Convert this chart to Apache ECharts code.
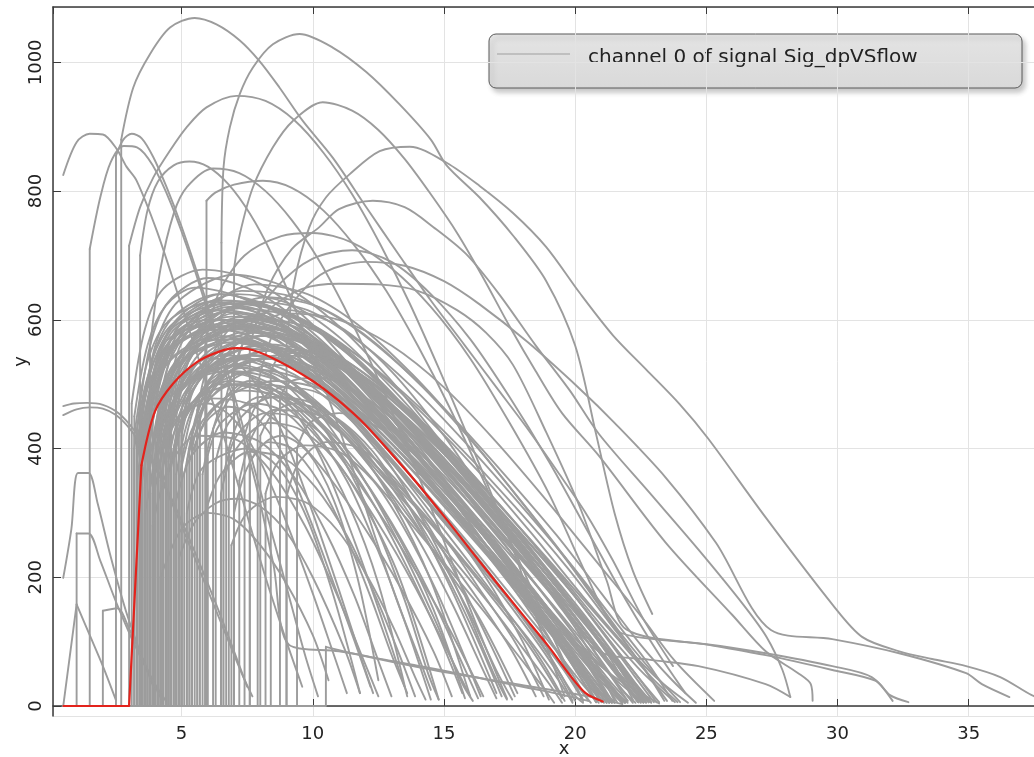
<!DOCTYPE html>
<html>
<head>
<meta charset="utf-8">
<script src="https://cdn.jsdelivr.net/npm/echarts@6/dist/echarts.min.js"></script>
<style>
html,body{margin:0;padding:0;background:#fff;}
#chart{width:1034px;height:757px;}
</style>
</head>
<body>
<div id="chart"></div>
<script>
// ---------------- data ----------------
const legendLabel = 'channel 0 of signal Sig_dpVSflow';
const xTickStep = 5;
const yTickStep = 200;

const redCurve = [[0.5,0],[3.0,0],[3.47,374],[3.98,457],[4.68,501],[5.57,534],[6.46,551],[7.1,556],[7.5,555],[8.5,540],[10.0,505],[11.0,474],[12.0,437],[13.0,392],[14.0,345],[15.0,295],[16.0,243],[17.0,192],[18.0,142],[19.0,92],[19.8,48],[20.4,20],[21.05,7]];

// big arcs
const arcA1 = [[0.5,0],[2.7,0],[2.7,880],[3.16,961],[3.8,1013],[4.56,1054],[5.5,1069],[6.33,1059],[7.22,1034],[7.97,1002],[8.73,961],[9.62,909],[10.76,852],[12.04,775],[13.3,700],[14.5,630],[15.8,560],[17.0,495],[18.2,430],[19.4,360],[20.4,300],[21.44,226],[22.6,135],[23.73,62]];
const arcA2 = [[0.5,0],[6.52,0],[6.52,720],[6.6,837],[6.84,899],[7.22,951],[7.72,992],[8.48,1028],[9.5,1044],[10.76,1023],[12.04,985],[13.3,935],[14.5,880],[15.1,840],[16.36,790],[17.63,731],[18.9,660],[20.0,560],[20.8,422],[21.5,300],[22.2,210],[22.94,143]];
const arcM1 = [[0.5,0],[3.42,0],[3.42,700],[3.7,770],[4.1,815],[4.7,840],[5.3,846],[6.0,838],[6.8,810],[7.6,765],[8.4,705],[9.2,630],[10.0,545],[10.8,455],[11.6,360],[12.4,260],[13.2,165],[14.0,80],[14.5,25]];
const arcM2 = [[0.5,0],[3.8,0],[3.8,560],[4.2,680],[4.7,765],[5.2,806],[6.2,835],[7.2,828],[8.2,800],[9.2,755],[10.2,695],[11.2,620],[12.2,535],[13.2,440],[14.2,340],[15.2,235],[16.2,130],[17.0,50],[17.4,12]];
const arcM3 = [[0.5,0],[5.95,0],[5.95,785],[6.3,798],[7.0,810],[8.1,816],[9.2,805],[10.4,770],[11.6,715],[12.8,645],[14.0,560],[15.2,465],[16.4,360],[17.6,250],[18.8,140],[19.8,50],[20.3,10]];
const arcM4 = [[0.5,0],[3.0,0],[3.0,715],[3.42,775],[3.92,821],[4.56,863],[5.19,899],[5.95,930],[7.09,948],[8.2,940],[9.3,910],[10.4,860],[11.5,795],[12.6,715],[13.7,625],[14.8,525],[15.9,420],[17.0,310],[17.8,225],[18.5,140],[19.2,60],[19.6,15]];
const arcM5 = [[0.5,0],[7.0,0],[7.0,680],[7.22,733],[7.72,806],[8.48,868],[9.24,909],[10.38,938],[11.5,925],[12.5,895],[13.5,850],[14.5,795],[15.5,735],[16.5,665],[17.5,590],[18.5,520],[19.5,455],[20.9,389],[23.45,254],[26.0,141],[27.26,85],[28.5,51],[28.98,34],[29.05,8]];
const arcL1 = [[0.5,0],[9.0,0],[9.0,560],[9.3,660],[9.87,744],[10.5,790],[11.4,826],[12.55,862],[13.7,869],[15.1,844],[16.36,808],[17.63,766],[18.9,713],[20.17,642],[21.44,576],[22.7,523],[23.98,469],[25.06,416],[27.26,293],[29.8,158],[30.95,107],[32.35,85],[33.6,73],[34.9,62],[36.2,45],[37.4,17],[38.2,5]];
const arcM7 = [[0.5,0],[7.6,0],[7.6,560],[8.3,650],[9.2,710],[10.25,744],[11.0,772],[12.29,785],[13.5,775],[14.6,744],[15.85,702],[17.1,640],[18.5,560],[19.8,490],[20.9,423],[22.8,333],[24.7,243],[26.4,158],[27.3,107],[27.9,56],[28.2,14]];
const arcT1 = [[0.5,0],[7.9,0],[7.9,500],[8.5,580],[9.5,640],[10.5,675],[12.0,690],[13.5,684],[15.0,660],[16.36,624],[18.2,565],[20.17,493],[21.5,440],[23.45,355],[25.36,254],[27.46,118],[29.8,104],[32.35,82],[34.9,51],[35.5,34],[36.55,14]];
const arcM8 = [[0.5,0],[7.0,0],[7.0,520],[7.6,590],[8.6,650],[10.0,695],[11.5,708],[13.0,690],[14.5,640],[16.0,570],[17.5,480],[19.0,380],[20.5,270],[22.0,160],[23.2,80],[24.2,20]];
const arcM9 = [[0.5,0],[6.7,0],[6.7,480],[7.3,560],[8.3,615],[9.6,648],[11.0,656],[12.5,655],[14.0,645],[15.5,615],[16.6,580],[17.63,530],[18.9,425],[20.17,310],[21.2,195],[21.95,119],[25.1,95],[27.26,79],[29.8,56],[31.46,39],[32.0,17],[32.7,6]];
const arcM10 = [[0.5,0],[5.9,0],[5.9,560],[6.4,640],[7.4,700],[8.8,730],[10.0,735],[11.5,720],[13.0,680],[14.5,620],[16.0,540],[17.5,440],[19.0,330],[20.3,215],[21.5,120],[22.4,107],[25.0,96],[27.26,82],[29.8,62],[31.3,45],[32.1,8]];
const arcTl3 = [[0.5,0],[5.6,0],[5.6,460],[6.1,540],[7.1,595],[9.0,615],[11.0,590],[13.0,520],[15.0,420],[16.5,330],[18.0,240],[19.5,150],[20.9,85],[22.8,72],[24.7,62],[27.26,34],[28.2,14]];

// left small curves
const leftS1 = [[0.49,825],[1.0,876],[1.5,889],[2.0,888],[2.52,866],[2.9,838],[3.29,816],[4.05,739],[4.81,646],[5.06,614],[5.8,520],[6.6,420],[7.4,310],[8.2,200],[9.0,100],[9.6,30]];
const leftS2 = [[0.5,0],[2.5,0],[2.5,855],[2.78,880],[3.1,889],[3.48,882],[3.92,853],[4.43,806],[5.0,745],[5.7,660],[6.5,555],[7.3,440],[8.1,320],[8.9,200],[9.7,80],[10.2,15]];
const leftS3 = [[0.5,0],[1.5,0],[1.5,710],[1.9,790],[2.3,845],[2.8,870],[3.3,868],[3.9,840],[4.6,780],[5.4,690],[6.2,585],[7.0,470],[7.8,350],[8.5,220],[9.1,95],[11.0,85],[13.0,70],[15.0,55],[17.0,38],[19.0,22],[20.5,8]];
const leftF1 = [[0.49,452],[1.0,461],[1.5,464],[2.0,462],[2.5,452],[3.0,432],[3.6,398],[4.3,345],[5.0,280],[5.8,200],[6.6,120],[7.3,50],[7.7,15]];
const leftF2 = [[0.49,466],[0.9,470],[1.4,471],[2.0,468],[2.6,455],[3.2,428],[3.9,382],[4.7,315],[5.5,240],[6.3,160],[7.0,85],[7.5,30]];
const leftF3 = [[0.49,199],[0.8,275],[1.05,362],[1.45,362],[1.8,315],[2.3,232],[2.9,145],[3.5,75],[4.0,22]];
const leftF4 = [[0.5,0],[1.0,0],[1.0,268],[1.45,268],[1.9,226],[2.5,162],[3.2,96],[3.9,40],[4.4,8]];
const leftF5 = [[0.49,0],[1.0,158],[1.5,110],[2.0,62],[2.5,9]];
const leftF6 = [[0.5,0],[2.0,0],[2.0,148],[2.55,152],[3.0,120],[3.5,75],[4.0,30],[4.3,5]];
const tailT1 = [[0.5,0],[10.5,0],[10.5,92],[12.06,77],[14.6,56],[17.9,33],[20.5,15],[21.8,3]];

// dense band
const band01 = [[0.5,0],[3.3,0],[3.3,430],[3.8,560],[4.5,628],[6.0,665],[8.0,640],[10.0,580],[12.0,500],[14.0,405],[16.0,300],[18.0,195],[20.0,100],[21.5,45],[23.2,4]];
const band02 = [[0.5,0],[3.5,0],[3.5,400],[4.0,530],[4.8,600],[6.5,640],[8.5,615],[10.5,555],[12.5,470],[14.5,375],[16.5,275],[18.5,175],[20.0,105],[21.3,50],[22.6,5]];
const band03 = [[0.5,0],[3.7,0],[3.7,380],[4.2,505],[5.0,578],[6.8,620],[8.8,595],[10.8,530],[12.8,445],[14.8,350],[16.8,250],[18.5,165],[20.0,90],[21.0,42],[22.0,5]];
const band04 = [[0.5,0],[3.2,0],[3.2,450],[3.7,560],[4.4,622],[5.5,650],[7.5,630],[9.5,570],[11.5,490],[13.5,395],[15.5,295],[17.5,190],[19.0,115],[20.3,50],[21.4,5]];
const band05 = [[0.5,0],[4.0,0],[4.0,390],[4.5,500],[5.4,565],[7.2,600],[9.2,575],[11.2,510],[13.2,425],[15.2,330],[17.0,240],[18.7,150],[20.0,85],[21.0,38],[21.8,4]];
const band06 = [[0.5,0],[4.2,0],[4.2,420],[4.8,515],[5.8,565],[7.5,590],[9.5,575],[11.5,530],[13.5,465],[15.5,385],[17.5,295],[19.5,200],[21.0,125],[22.5,55],[23.8,6]];
const band07 = [[0.5,0],[3.9,0],[3.9,350],[4.4,480],[5.3,565],[7.0,610],[9.0,585],[11.0,515],[13.0,425],[15.0,325],[16.8,230],[18.3,145],[19.5,75],[20.5,8]];
const band08 = [[0.5,0],[4.5,0],[4.5,400],[5.0,490],[6.0,550],[7.8,580],[9.8,560],[11.8,505],[13.8,430],[15.8,345],[17.8,250],[19.5,165],[20.8,95],[21.7,45],[22.4,6]];
const band09 = [[0.5,0],[3.6,0],[3.6,440],[4.1,545],[4.9,600],[6.3,630],[8.3,622],[10.3,585],[12.3,525],[14.3,450],[16.3,365],[18.3,270],[20.3,170],[22.0,90],[23.2,40],[24.3,5]];
const band10 = [[0.5,0],[4.7,0],[4.7,380],[5.2,470],[6.2,530],[8.0,560],[10.0,535],[12.0,470],[14.0,385],[16.0,290],[17.8,195],[19.2,110],[20.1,50],[20.8,6]];
const band11 = [[0.5,0],[3.4,0],[3.4,360],[3.9,490],[4.7,565],[6.6,600],[8.6,570],[10.6,495],[12.6,400],[14.6,295],[16.4,200],[17.8,125],[18.8,65],[19.6,8]];
const band12 = [[0.5,0],[5.0,0],[5.0,420],[5.5,495],[6.5,548],[8.2,575],[10.2,560],[12.2,510],[14.2,440],[16.2,355],[18.2,262],[20.0,170],[21.3,100],[22.2,50],[23.0,6]];
const band13 = [[0.5,0],[3.1,0],[3.1,470],[3.6,585],[4.3,648],[5.8,678],[7.8,660],[9.8,600],[11.8,510],[13.8,405],[15.8,295],[17.6,195],[19.0,120],[20.1,55],[21.0,6]];
const band14 = [[0.5,0],[4.3,0],[4.3,370],[4.8,455],[5.8,515],[7.6,545],[9.6,520],[11.6,455],[13.6,365],[15.4,270],[16.9,180],[18.0,100],[19.0,10]];
const band15 = [[0.5,0],[3.8,0],[3.8,410],[4.3,525],[5.1,590],[7.0,625],[9.0,610],[11.0,560],[13.0,485],[15.0,395],[17.0,300],[19.0,200],[20.6,120],[21.9,55],[22.9,6]];
const band16 = [[0.5,0],[4.9,0],[4.9,350],[5.4,430],[6.5,495],[8.5,530],[10.5,515],[12.5,465],[14.5,395],[16.5,310],[18.3,220],[19.8,135],[20.8,65],[21.5,8]];
const band17 = [[0.5,0],[3.3,0],[3.3,390],[3.8,515],[4.6,585],[6.2,615],[8.2,590],[10.2,525],[12.2,435],[14.2,335],[16.2,235],[17.8,150],[19.0,80],[20.0,8]];
const band18 = [[0.5,0],[4.1,0],[4.1,440],[4.6,545],[5.5,605],[7.3,645],[9.3,635],[11.3,595],[13.3,530],[15.3,450],[17.3,360],[19.3,265],[21.0,175],[22.5,95],[23.7,40],[24.6,5]];
const band19 = [[0.5,0],[3.6,0],[3.6,370],[4.1,480],[5.0,545],[6.9,575],[8.9,545],[10.9,470],[12.9,375],[14.7,280],[16.3,185],[17.7,100],[18.8,15]];
const band20 = [[0.5,0],[4.4,0],[4.4,460],[4.9,555],[5.9,615],[7.8,655],[9.8,640],[11.8,590],[13.8,515],[15.8,425],[17.8,325],[19.7,225],[21.2,140],[22.5,65],[23.5,8]];
const band21 = [[0.5,0],[3.9,0],[3.9,330],[4.4,440],[5.3,505],[7.0,540],[9.0,510],[11.0,430],[13.0,330],[14.8,230],[16.3,140],[17.8,20]];
const band22 = [[0.5,0],[5.3,0],[5.3,400],[5.8,475],[6.8,528],[8.7,555],[10.7,540],[12.7,490],[14.7,415],[16.7,325],[18.6,230],[20.2,140],[21.4,70],[22.2,10]];
const band23 = [[0.5,0],[3.4,0],[3.4,420],[3.9,540],[4.7,605],[6.4,640],[8.4,620],[10.4,560],[12.4,475],[14.4,380],[16.4,280],[18.4,180],[20.0,100],[21.1,45],[21.9,6]];
const band24 = [[0.5,0],[4.6,0],[4.6,430],[5.1,520],[6.0,575],[7.6,600],[9.6,575],[11.6,505],[13.6,410],[15.6,305],[17.4,205],[18.8,120],[19.7,55],[20.3,8]];
const band25 = [[0.5,0],[3.7,0],[3.7,460],[4.2,545],[5.0,585],[6.0,600],[8.0,595],[10.0,565],[12.0,510],[14.0,440],[16.0,360],[18.0,272],[20.0,180],[21.6,105],[22.9,45],[23.9,6]];
const band26 = [[0.5,0],[4.0,0],[4.0,340],[4.5,420],[5.5,475],[7.2,500],[9.2,480],[11.2,420],[13.2,340],[15.2,250],[16.9,165],[18.3,90],[19.5,12]];
const band27 = [[0.5,0],[4.8,0],[4.8,450],[5.3,540],[6.3,600],[8.2,635],[10.2,620],[12.2,570],[14.2,495],[16.2,405],[18.2,305],[20.1,205],[21.6,120],[22.9,55],[24.0,6]];
const band28 = [[0.5,0],[3.2,0],[3.2,400],[3.7,510],[4.5,570],[5.9,590],[7.9,570],[9.9,515],[11.9,440],[13.9,350],[15.9,255],[17.7,165],[19.2,90],[20.2,38],[20.9,5]];
const band29 = [[0.5,0],[5.6,0],[5.6,430],[6.1,488],[7.0,525],[8.4,540],[10.4,520],[12.4,460],[14.4,380],[16.4,285],[18.2,190],[19.6,105],[20.5,45],[21.0,8]];
const band30 = [[0.5,0],[4.2,0],[4.2,380],[4.7,500],[5.6,580],[7.4,625],[9.4,605],[11.4,550],[13.4,470],[15.4,380],[17.4,285],[19.4,185],[21.0,105],[22.0,50],[22.7,6]];
const band31 = [[0.5,0],[3.5,0],[3.5,445],[4.0,560],[4.9,630],[7.0,670],[9.0,650],[11.0,590],[13.0,505],[15.0,405],[17.0,300],[18.8,200],[20.3,110],[21.3,50],[22.0,8]];
const band32 = [[0.5,0],[4.5,0],[4.5,360],[5.0,440],[5.9,495],[7.0,520],[9.0,500],[11.0,435],[13.0,345],[14.8,250],[16.4,160],[17.6,85],[18.5,15]];
const band33 = [[0.5,0],[5.2,0],[5.2,380],[5.7,470],[6.8,550],[9.0,610],[11.0,600],[13.0,560],[15.0,495],[17.0,410],[19.0,315],[21.0,215],[22.5,140],[23.8,70],[25.3,8]];
const band34 = [[0.5,0],[3.3,0],[3.3,380],[3.8,490],[4.6,555],[6.5,590],[8.5,570],[10.5,515],[12.5,440],[14.5,355],[16.5,265],[18.5,170],[20.0,95],[21.2,40],[21.9,5]];
const band35 = [[0.5,0],[3.5,0],[3.5,350],[4.0,460],[4.8,530],[6.8,565],[8.8,545],[10.8,490],[12.8,415],[14.8,330],[16.8,240],[18.6,155],[19.9,85],[20.9,30],[21.4,5]];
const band36 = [[0.5,0],[3.7,0],[3.7,420],[4.2,520],[5.0,575],[6.9,605],[8.9,590],[10.9,540],[12.9,465],[14.9,375],[16.9,280],[18.9,185],[20.5,105],[21.8,45],[22.6,6]];
const band37 = [[0.5,0],[3.9,0],[3.9,400],[4.4,500],[5.2,555],[7.1,585],[9.1,565],[11.1,505],[13.1,425],[15.1,335],[17.1,240],[18.9,150],[20.2,80],[21.0,30],[21.5,5]];
const band38 = [[0.5,0],[4.1,0],[4.1,360],[4.6,465],[5.5,530],[7.3,565],[9.3,550],[11.3,495],[13.3,420],[15.3,335],[17.3,245],[19.2,155],[20.6,85],[21.6,35],[22.2,5]];
const band39 = [[0.5,0],[3.4,0],[3.4,440],[3.9,540],[4.7,595],[6.6,625],[8.6,605],[10.6,545],[12.6,465],[14.6,370],[16.6,270],[18.4,180],[19.9,100],[21.0,45],[21.8,6]];
const band40 = [[0.5,0],[3.6,0],[3.6,395],[4.1,505],[4.9,565],[6.7,595],[8.7,578],[10.7,522],[12.7,445],[14.7,355],[16.7,262],[18.6,170],[20.1,95],[21.2,40],[21.9,5]];
const band41 = [[0.5,0],[4.3,0],[4.3,410],[4.8,505],[5.7,560],[7.5,590],[9.5,575],[11.5,522],[13.5,448],[15.5,362],[17.5,270],[19.4,180],[20.9,100],[22.0,45],[22.8,6]];
const band42 = [[0.5,0],[3.8,0],[3.8,370],[4.3,475],[5.1,540],[7.0,570],[9.0,548],[11.0,488],[13.0,408],[15.0,318],[17.0,225],[18.7,140],[19.9,72],[20.7,25],[21.1,5]];
const band43 = [[0.5,0],[4.5,0],[4.5,430],[5.0,515],[5.9,568],[7.7,600],[9.7,590],[11.7,545],[13.7,478],[15.7,398],[17.7,310],[19.7,215],[21.3,130],[22.6,60],[23.4,8]];
const band44 = [[0.5,0],[3.5,0],[3.5,410],[4.0,525],[4.8,588],[6.6,615],[8.6,595],[10.6,535],[12.6,455],[14.6,362],[16.6,265],[18.5,172],[20.0,95],[21.1,40],[21.8,5]];
const band45 = [[0.5,0],[4.0,0],[4.0,430],[4.5,530],[5.4,588],[7.2,618],[9.2,604],[11.2,552],[13.2,478],[15.2,390],[17.2,296],[19.2,200],[20.8,118],[22.0,52],[22.8,6]];
const band46 = [[0.5,0],[3.3,0],[3.3,350],[3.8,470],[4.6,540],[6.4,575],[8.4,552],[10.4,490],[12.4,408],[14.4,315],[16.4,220],[18.0,140],[19.3,72],[20.2,25],[20.6,5]];
const band47 = [[0.5,0],[4.7,0],[4.7,400],[5.2,488],[6.1,545],[7.9,575],[9.9,562],[11.9,512],[13.9,442],[15.9,360],[17.9,270],[19.8,180],[21.3,102],[22.4,45],[23.1,6]];
const band48 = [[0.5,0],[3.9,0],[3.9,450],[4.4,548],[5.2,605],[7.1,640],[9.1,625],[11.1,570],[13.1,490],[15.1,398],[17.1,300],[19.0,205],[20.6,120],[21.8,55],[22.6,6]];
const band49 = [[0.5,0],[4.2,0],[4.2,350],[4.7,450],[5.6,512],[7.4,545],[9.4,528],[11.4,470],[13.4,392],[15.4,305],[17.3,215],[18.9,135],[20.1,70],[20.9,25],[21.3,5]];
const band50 = [[0.5,0],[3.6,0],[3.6,420],[4.1,525],[4.9,585],[6.8,612],[8.8,598],[10.8,545],[12.8,470],[14.8,382],[16.8,288],[18.8,192],[20.4,110],[21.6,48],[22.4,6]];
const band51 = [[0.5,0],[5.0,0],[5.0,380],[5.5,465],[6.4,522],[8.3,552],[10.3,540],[12.3,490],[14.3,420],[16.3,338],[18.3,250],[20.1,165],[21.5,92],[22.5,40],[23.2,6]];
const band52 = [[0.5,0],[3.4,0],[3.4,400],[3.9,510],[4.7,572],[6.5,600],[8.5,582],[10.5,522],[12.5,442],[14.5,350],[16.5,255],[18.3,165],[19.7,90],[20.7,35],[21.3,5]];
const band53 = [[0.5,0],[4.4,0],[4.4,390],[4.9,490],[5.8,552],[7.6,582],[9.6,568],[11.6,515],[13.6,442],[15.6,358],[17.6,266],[19.5,175],[21.0,98],[22.1,42],[22.8,6]];
const band54 = [[0.5,0],[3.7,0],[3.7,360],[4.2,470],[5.0,535],[6.9,565],[8.9,545],[10.9,485],[12.9,405],[14.9,315],[16.9,222],[18.6,140],[19.9,72],[20.8,25],[21.2,5]];
const band55 = [[0.5,0],[4.6,0],[4.6,455],[5.1,545],[6.0,600],[7.8,628],[9.8,615],[11.8,565],[13.8,495],[15.8,410],[17.8,318],[19.8,222],[21.4,138],[22.8,65],[23.7,8]];
const band56 = [[0.5,0],[3.2,0],[3.2,420],[3.7,535],[4.5,598],[6.2,628],[8.2,605],[10.2,542],[12.2,458],[14.2,362],[16.2,262],[18.1,168],[19.6,90],[20.6,38],[21.2,5]];
const band57 = [[0.5,0],[4.1,0],[4.1,400],[4.6,500],[5.5,558],[7.3,588],[9.3,572],[11.3,518],[13.3,442],[15.3,355],[17.3,262],[19.2,172],[20.7,95],[21.8,40],[22.5,6]];
const band58 = [[0.5,0],[3.8,0],[3.8,440],[4.3,540],[5.1,598],[7.0,628],[9.0,612],[11.0,558],[13.0,482],[15.0,392],[17.0,296],[19.0,200],[20.6,118],[21.8,52],[22.7,6]];
const band59 = [[0.5,0],[4.8,0],[4.8,360],[5.3,450],[6.2,510],[8.1,540],[10.1,525],[12.1,470],[14.1,395],[16.1,310],[18.1,220],[19.8,138],[21.0,70],[21.8,25],[22.3,5]];
const band60 = [[0.5,0],[3.5,0],[3.5,380],[4.0,495],[4.8,560],[6.7,590],[8.7,572],[10.7,512],[12.7,432],[14.7,340],[16.7,245],[18.5,158],[19.9,85],[20.9,32],[21.5,5]];
const band61 = [[0.5,0],[4.0,0],[4.0,380],[4.5,460],[5.5,515],[7.3,540],[9.3,515],[11.3,450],[13.3,365],[15.3,272],[17.1,185],[18.6,108],[19.7,48],[20.3,8]];
const band62 = [[0.5,0],[4.6,0],[4.6,370],[5.1,445],[6.2,498],[8.0,522],[10.0,500],[12.0,440],[14.0,358],[16.0,268],[17.8,180],[19.2,105],[20.2,45],[20.8,6]];
const band63 = [[0.5,0],[3.8,0],[3.8,340],[4.3,440],[5.2,500],[7.0,528],[9.0,500],[11.0,430],[13.0,340],[15.0,245],[16.7,160],[18.0,90],[19.0,35],[19.5,5]];
const band64 = [[0.5,0],[5.1,0],[5.1,360],[5.6,430],[6.7,480],[8.6,505],[10.6,488],[12.6,432],[14.6,355],[16.6,268],[18.4,182],[19.8,105],[20.8,45],[21.3,6]];
const band65 = [[0.5,0],[4.3,0],[4.3,400],[4.8,480],[5.8,530],[7.6,555],[9.6,535],[11.6,472],[13.6,390],[15.6,298],[17.5,205],[19.0,125],[20.1,60],[20.8,8]];
const band66 = [[0.5,0],[3.5,0],[3.5,420],[4.0,500],[4.8,545],[6.6,570],[8.6,548],[10.6,485],[12.6,400],[14.6,305],[16.5,210],[18.0,130],[19.2,60],[19.9,8]];
const band67 = [[0.5,0],[4.9,0],[4.9,420],[5.4,498],[6.4,550],[8.2,575],[10.2,558],[12.2,500],[14.2,420],[16.2,330],[18.1,238],[19.8,150],[21.1,80],[22.0,30],[22.5,5]];
const band68 = [[0.5,0],[3.9,0],[3.9,360],[4.4,450],[5.3,505],[7.1,530],[9.1,505],[11.1,438],[13.1,350],[15.1,258],[16.9,170],[18.4,95],[19.4,38],[19.9,5]];
const band69 = [[0.5,0],[4.2,0],[4.2,430],[4.7,520],[5.6,575],[7.4,605],[9.4,588],[11.4,530],[13.4,450],[15.4,360],[17.4,265],[19.3,172],[20.8,95],[21.9,40],[22.6,6]];
const band70 = [[0.5,0],[3.6,0],[3.6,340],[4.1,440],[5.0,498],[6.8,520],[8.8,492],[10.8,420],[12.8,328],[14.8,232],[16.5,148],[17.8,80],[18.8,28],[19.2,5]];
const band71 = [[0.5,0],[5.4,0],[5.4,400],[5.9,470],[6.9,520],[8.8,545],[10.8,530],[12.8,475],[14.8,400],[16.8,312],[18.7,222],[20.3,138],[21.5,70],[22.3,20],[22.7,5]];
const band72 = [[0.5,0],[4.5,0],[4.5,380],[5.0,462],[6.0,518],[7.8,545],[9.8,525],[11.8,462],[13.8,380],[15.8,288],[17.7,198],[19.2,118],[20.3,55],[21.0,8]];
const band73 = [[0.5,0],[3.3,0],[3.3,410],[3.8,505],[4.6,560],[6.4,585],[8.4,562],[10.4,498],[12.4,412],[14.4,318],[16.3,225],[17.9,142],[19.1,72],[19.9,20],[20.3,5]];
const band74 = [[0.5,0],[4.0,0],[4.0,410],[4.5,505],[5.4,562],[7.2,592],[9.2,578],[11.2,522],[13.2,445],[15.2,358],[17.2,265],[19.1,175],[20.6,100],[21.7,42],[22.4,6]];
const band75 = [[0.5,0],[4.8,0],[4.8,400],[5.3,480],[6.3,535],[8.1,562],[10.1,548],[12.1,492],[14.1,415],[16.1,328],[18.1,236],[19.9,150],[21.3,82],[22.3,32],[22.9,5]];

// inner / lower arcs
const inner01 = [[0.5,0],[5.0,0],[5.0,430],[5.5,475],[6.8,505],[8.3,490],[9.8,440],[11.3,350],[12.6,230],[13.6,120],[14.5,10]];
const inner02 = [[0.5,0],[5.5,0],[5.5,400],[6.0,450],[7.3,490],[8.8,480],[10.3,435],[11.8,360],[13.3,260],[14.6,150],[15.8,12]];
const inner03 = [[0.5,0],[4.5,0],[4.5,440],[5.0,490],[6.2,520],[7.7,510],[9.2,470],[10.7,405],[12.2,320],[13.7,225],[15.2,120],[16.5,15]];
const inner04 = [[0.5,0],[6.0,0],[6.0,390],[6.5,440],[7.8,470],[9.0,455],[10.2,400],[11.4,310],[12.5,190],[13.6,15]];
const inner05 = [[0.5,0],[5.8,0],[5.8,360],[6.3,440],[7.5,500],[9.0,495],[10.5,460],[12.0,395],[13.5,310],[15.0,210],[16.2,110],[17.2,15]];
const inner06 = [[0.5,0],[6.5,0],[6.5,330],[7.0,395],[8.3,440],[9.5,430],[10.8,385],[12.0,310],[13.3,200],[14.8,10]];
const inner07 = [[0.5,0],[7.2,0],[7.2,350],[7.7,420],[8.5,460],[10.0,455],[11.5,410],[13.0,320],[14.5,195],[16.0,15]];
const inner08 = [[0.5,0],[5.2,0],[5.2,300],[5.8,370],[7.5,400],[8.7,370],[9.8,290],[10.8,170],[11.8,20]];
const inner09 = [[0.5,0],[4.9,0],[4.9,230],[5.5,285],[6.3,315],[7.1,322],[8.0,310],[9.0,270],[10.0,200],[11.2,90],[11.8,20]];
const inner10 = [[0.5,0],[4.2,0],[4.2,200],[5.0,275],[6.0,300],[7.0,290],[8.0,250],[9.0,190],[10.0,110],[10.6,40]];
const inner11 = [[0.5,0],[7.6,0],[7.6,380],[8.2,410],[8.8,420],[9.8,395],[10.8,320],[11.7,200],[12.5,40]];
const inner12 = [[0.5,0],[8.0,0],[8.0,420],[8.5,455],[9.3,470],[10.8,450],[12.3,395],[13.8,300],[15.3,180],[17.0,20]];
const inner13 = [[0.5,0],[8.4,0],[8.4,520],[8.8,545],[10.0,550],[12.0,500],[14.0,420],[16.0,320],[18.0,215],[19.8,120],[21.2,45],[22.0,8]];
const inner14 = [[0.5,0],[8.75,0],[8.75,480],[9.2,505],[10.3,510],[12.3,470],[14.3,395],[16.3,300],[18.3,200],[20.0,110],[21.0,45],[21.6,6]];
const inner15 = [[0.5,0],[9.4,0],[9.4,400],[9.9,440],[11.0,455],[13.0,420],[15.0,345],[17.0,250],[19.0,150],[20.6,60],[21.4,8]];
const inner16 = [[0.5,0],[4.7,0],[4.7,400],[5.2,460],[6.4,500],[7.9,492],[9.4,450],[10.9,380],[12.4,290],[13.9,185],[15.2,80],[16.0,15]];
const inner17 = [[0.5,0],[5.4,0],[5.4,420],[5.9,470],[7.0,500],[8.5,492],[10.0,450],[11.5,378],[13.0,285],[14.4,180],[15.6,75],[16.3,12]];
const inner18 = [[0.5,0],[6.3,0],[6.3,380],[6.8,440],[8.0,480],[9.5,472],[11.0,428],[12.5,355],[14.0,260],[15.3,160],[16.5,55],[17.0,12]];
const inner19 = [[0.5,0],[4.4,0],[4.4,380],[4.9,440],[6.0,478],[7.5,470],[9.0,430],[10.5,362],[12.0,275],[13.4,180],[14.6,85],[15.3,15]];
const inner20 = [[0.5,0],[6.8,0],[6.8,400],[7.3,450],[8.5,480],[10.0,470],[11.5,425],[13.0,350],[14.5,255],[15.9,150],[17.0,55],[17.6,10]];
const inner21 = [[0.5,0],[5.7,0],[5.7,450],[6.2,500],[7.3,525],[8.6,510],[9.9,460],[11.2,380],[12.4,280],[13.5,165],[14.4,50],[14.8,10]];
const inner22 = [[0.5,0],[4.8,0],[4.8,320],[5.4,390],[6.6,425],[8.0,410],[9.3,355],[10.5,270],[11.6,170],[12.5,70],[13.0,15]];
const inner23 = [[0.5,0],[6.6,0],[6.6,360],[7.1,420],[8.2,455],[9.6,445],[11.0,395],[12.3,315],[13.6,215],[14.8,110],[15.7,20]];
const inner24 = [[0.5,0],[3.9,0],[3.9,280],[4.5,370],[5.6,420],[7.0,415],[8.4,365],[9.7,280],[10.9,175],[11.9,75],[12.5,15]];
const inner25 = [[0.5,0],[7.4,0],[7.4,420],[7.9,470],[8.9,495],[10.3,485],[11.7,440],[13.1,365],[14.5,265],[15.8,155],[16.9,50],[17.4,10]];
const inner26 = [[0.5,0],[5.9,0],[5.9,300],[6.5,360],[7.6,395],[8.9,385],[10.1,340],[11.3,265],[12.4,170],[13.3,80],[13.9,15]];
const inner27 = [[0.5,0],[8.2,0],[8.2,330],[8.7,380],[9.7,405],[11.0,395],[12.3,350],[13.5,275],[14.7,180],[15.7,85],[16.4,15]];
const inner28 = [[0.5,0],[6.9,0],[6.9,250],[7.5,300],[8.6,325],[9.8,315],[11.0,270],[12.1,200],[13.1,120],[13.9,45],[14.3,10]];
const inner29 = [[0.5,0],[5.0,0],[5.0,460],[5.5,515],[6.6,545],[8.0,535],[9.4,495],[10.8,425],[12.2,335],[13.5,235],[14.7,130],[15.7,35],[16.1,8]];
const inner30 = [[0.5,0],[9.0,0],[9.0,325],[9.5,380],[10.5,410],[11.8,400],[13.1,355],[14.4,280],[15.7,185],[16.9,85],[17.7,15]];
const steep01 = [[0.5,0],[4.4,0],[4.4,420],[5.0,500],[6.0,540],[7.0,535],[8.0,490],[9.0,410],[10.0,300],[11.0,180],[11.8,80],[12.3,20]];
const steep02 = [[0.5,0],[5.3,0],[5.3,380],[5.9,440],[6.8,465],[7.8,450],[8.8,395],[9.8,300],[10.8,190],[11.6,100],[12.2,30]];
const steep03 = [[0.5,0],[3.6,0],[3.6,300],[4.2,400],[5.0,455],[6.0,470],[7.0,445],[8.0,380],[9.0,285],[10.0,175],[10.8,80],[11.3,20]];
const steep04 = [[0.5,0],[6.2,0],[6.2,430],[6.7,480],[7.6,505],[8.6,490],[9.6,440],[10.6,360],[11.6,255],[12.6,140],[13.5,30]];
const steep05 = [[0.5,0],[7.0,0],[7.0,300],[7.5,370],[8.3,410],[9.2,400],[10.2,350],[11.2,270],[12.2,170],[13.0,80],[13.6,20]];

const grayCurves = [
  band01,band02,band03,band04,band05,band06,band07,band08,band09,band10,
  band11,band12,band13,band14,band15,band16,band17,band18,band19,band20,
  band21,band22,band23,band24,band25,band26,band27,band28,band29,band30,
  band31,band32,band33,band34,band35,band36,band37,band38,band39,band40,
  band41,band42,band43,band44,band45,band46,band47,band48,band49,band50,
  band51,band52,band53,band54,band55,band56,band57,band58,band59,band60,
  band61,band62,band63,band64,band65,band66,band67,band68,band69,band70,
  band71,band72,band73,band74,band75,
  inner01,inner02,inner03,inner04,inner05,inner06,inner07,inner08,inner09,inner10,
  inner11,inner12,inner13,inner14,inner15,inner16,inner17,inner18,inner19,inner20,
  inner21,inner22,inner23,inner24,inner25,inner26,inner27,inner28,inner29,inner30,
  steep01,steep02,steep03,steep04,steep05,
  arcA1,arcA2,arcM1,arcM2,arcM3,arcM4,arcM5,arcL1,arcM7,arcT1,arcM8,arcM9,arcM10,arcTl3,
  leftS1,leftS2,leftS3,leftF1,leftF2,leftF3,leftF4,leftF5,leftF6,tailT1
];

// ---------------- chart ----------------
const GRAY = '#9c9c9c';
const RED = '#e3231c';
const series = [];
function addCurve(pts, color, width, z) {
  const k = pts.findIndex(p => p[1] > 0);
  const base = {
    type: 'line', showSymbol: false, symbol: 'none', silent: true,
    animation: false, z: z,
    lineStyle: { color: color, width: width, join: 'round', cap: 'round' }
  };
  if (k > 0) {
    series.push(Object.assign({}, base, { data: pts.slice(0, k + 1), smooth: false }));
  }
  series.push(Object.assign({}, base, { data: pts.slice(Math.max(k, 0)), smooth: 0.3 }));
}
grayCurves.forEach(c => addCurve(c, GRAY, 1.9, 2));
addCurve(redCurve, RED, 2.2, 5);

const FONT = 'DejaVu Sans';
const axisColor = '#3a3a3a';
const plainNum = v => String(v);
const chart = echarts.init(document.getElementById('chart'), null, { renderer: 'canvas' });
chart.setOption({
  backgroundColor: '#ffffff',
  animation: false,
  grid: { left: 53, top: 7, right: -41, bottom: 41, containLabel: false, outerBoundsMode: 'none' },
  xAxis: [{
    type: 'value', position: 'bottom', min: 0.1, max: 39.05,
    minInterval: xTickStep, maxInterval: xTickStep,
    name: 'x', nameLocation: 'middle', nameGap: 24, nameMoveOverlap: false,
    nameTextStyle: { fontFamily: FONT, fontSize: 18, color: '#222' },
    axisLine: { show: true, lineStyle: { color: axisColor, width: 1.5 } },
    axisTick: { show: true, inside: true, length: 7, lineStyle: { color: axisColor, width: 1 } },
    axisLabel: { fontFamily: FONT, fontSize: 18, color: '#222', margin: 9, showMinLabel: false, showMaxLabel: false, formatter: plainNum },
    splitLine: { show: true, lineStyle: { color: '#e3e3e3', width: 1 } }
  }, {
    type: 'value', position: 'top', min: 0.1, max: 39.05,
    minInterval: xTickStep, maxInterval: xTickStep,
    axisLine: { show: true, lineStyle: { color: axisColor, width: 1.5 } },
    axisTick: { show: true, inside: true, length: 7, lineStyle: { color: axisColor, width: 1 } },
    axisLabel: { show: false },
    splitLine: { show: false }
  }],
  yAxis: [{
    type: 'value', min: -15.5, max: 1086,
    minInterval: yTickStep, maxInterval: yTickStep,
    name: 'y', nameLocation: 'middle', nameGap: 23, nameRotate: 90, nameMoveOverlap: false,
    nameTextStyle: { fontFamily: FONT, fontSize: 18, color: '#222' },
    axisLine: { show: true, lineStyle: { color: axisColor, width: 1.5 } },
    axisTick: { show: true, inside: true, length: 8, lineStyle: { color: axisColor, width: 1 } },
    axisLabel: { fontFamily: FONT, fontSize: 18, color: '#222', rotate: 90, margin: 8, showMinLabel: false, showMaxLabel: false, formatter: plainNum },
    splitLine: { show: true, lineStyle: { color: '#e3e3e3', width: 1 } }
  }],
  series: series,
  graphic: [{
    type: 'group', z: 100,
    children: [{
      type: 'rect',
      shape: { x: 489, y: 34, width: 533, height: 54, r: 7 },
      style: {
        fill: new echarts.graphic.LinearGradient(0, 0, 0, 1, [
          { offset: 0, color: '#e4e4e4' }, { offset: 1, color: '#d9d9d9' }
        ]),
        stroke: '#5a5a5a', lineWidth: 1,
        shadowBlur: 5, shadowOffsetX: 3, shadowOffsetY: 4, shadowColor: 'rgba(0,0,0,0.22)'
      }
    }, {
      type: 'line',
      shape: { x1: 497, y1: 54, x2: 570, y2: 54 },
      style: { stroke: '#b4b4b4', lineWidth: 1.5 }
    }, {
      type: 'text', x: 588, y: 58,
      style: { text: legendLabel, fontFamily: FONT, fontSize: 20, fill: '#222', verticalAlign: 'middle', align: 'left' }
    }]
  }]
});
</script>
</body>
</html>
